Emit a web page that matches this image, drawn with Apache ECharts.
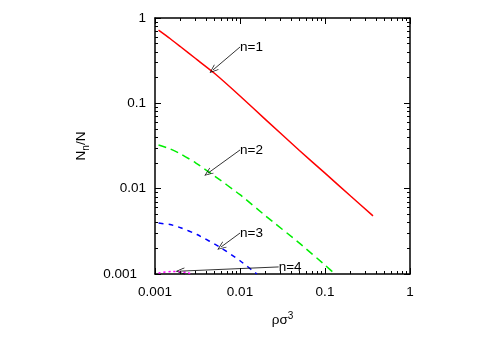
<!DOCTYPE html>
<html>
<head>
<meta charset="utf-8">
<script src="https://cdn.jsdelivr.net/npm/echarts@6/dist/echarts.min.js"></script>
<style>
  html, body { margin: 0; padding: 0; background: #fff; }
  #chart { width: 485px; height: 339px; }
</style>
</head>
<body>
<div id="chart"></div>
<script>
// density values (rho sigma^3) and fractions N_n/N for each cluster size
const n1X = [0.0011, 0.0015, 0.002, 0.003, 0.005, 0.01, 0.02, 0.05, 0.1, 0.2, 0.367]
const n1Y = [0.72, 0.575, 0.46, 0.335, 0.225, 0.122, 0.0645, 0.028, 0.0152, 0.0082, 0.0048]
const n2X = [0.0011, 0.0015, 0.002, 0.003, 0.005, 0.01, 0.02, 0.05, 0.1, 0.131]
const n2Y = [0.0325, 0.0293, 0.0256, 0.0201, 0.0141, 0.0085, 0.0048, 0.0023, 0.00127, 0.001]
const n3X = [0.0011, 0.0015, 0.002, 0.00312, 0.00597, 0.01, 0.0158]
const n3Y = [0.00395, 0.0038, 0.00349, 0.0029, 0.00203, 0.00143, 0.001]
const n4X = [0.0011, 0.0016, 0.0024, 0.0027]
const n4Y = [0.00103, 0.00107, 0.00104, 0.00099]
const tickLabels = ['0.001', '0.01', '0.1', '1']
const decades = [0.001, 0.01, 0.1]
const minorSteps = [2, 3, 4, 5, 6, 7, 8, 9]

// arrow annotations: [label, from, to]
const arrows = [
  ['n=1', [0.01, 0.457], [0.00481, 0.246]],
  ['n=2', [0.01, 0.0284], [0.0042, 0.0152]],
  ['n=3', [0.01, 0.00302], [0.00597, 0.00207]],
  ['n=4', [0.0285, 0.00121], [0.00197, 0.00108]]
]

const pairs = (xs, ys) => xs.map((x, i) => [x, ys[i]])
const font = 'Liberation Sans, Arial, sans-serif'
const minorValues = []
decades.forEach(d => minorSteps.forEach(k => minorValues.push(d * k)))

const fmt = (v) => {
  const s = tickLabels.find(t => Math.abs(Number(t) - v) / v < 1e-6)
  return s || ''
}

const baseAxis = {
  type: 'log',
  logBase: 10,
  min: 0.001,
  max: 1,
  axisLine: { show: true, onZero: false, lineStyle: { color: '#000', width: 1.5 } },
  axisTick: { show: true, inside: true, length: 6, lineStyle: { color: '#000' } },
  minorTick: { show: false },
  splitLine: { show: false },
  axisLabel: { color: '#000', fontSize: 13.5, fontFamily: font, formatter: fmt }
}

// extra axis carrying only the short minor ticks
const minorAxis = (position) => ({
  type: 'log',
  logBase: 10,
  min: 0.001,
  max: 1,
  position: position,
  axisLine: { show: false },
  axisTick: { show: true, inside: true, length: 3, customValues: minorValues, lineStyle: { color: '#000' } },
  axisLabel: { show: false },
  splitLine: { show: false }
})

// open V arrow head
const arrowHead = 'path://M5,0 L10,11 L9,11 L5,2.2 L1,11 L0,11 Z'

const chart = echarts.init(document.getElementById('chart'))

const option = {
  animation: false,
  backgroundColor: '#fff',
  grid: { left: 155, right: 75, top: 18, bottom: 65 },
  xAxis: [
    Object.assign({}, baseAxis, {
      position: 'bottom',
      name: 'ρσ{sup|3}',
      nameLocation: 'middle',
      nameGap: 37,
      nameTextStyle: {
        color: '#000', fontSize: 13.5, fontFamily: font,
        rich: { sup: { fontSize: 10, verticalAlign: 'top', padding: [0, 0, 9, 0], color: '#000', fontFamily: font } }
      },
      axisLabel: Object.assign({}, baseAxis.axisLabel, { margin: 11 })
    }),
    Object.assign({}, baseAxis, {
      position: 'top',
      axisLabel: { show: false }
    }),
    minorAxis('bottom'),
    minorAxis('top')
  ],
  yAxis: [
    Object.assign({}, baseAxis, {
      position: 'left',
      name: 'N{sub|n}/N',
      nameLocation: 'middle',
      nameRotate: 90,
      nameGap: 64,
      nameTextStyle: {
        color: '#000', fontSize: 13.5, fontFamily: font,
        rich: { sub: { fontSize: 10, verticalAlign: 'bottom', padding: [9, 0, 0, 0], color: '#000', fontFamily: font } }
      },
      axisLabel: Object.assign({}, baseAxis.axisLabel, {
        margin: 9,
        formatter: (v) => {
          const s = fmt(v)
          return s === '0.001' ? '{low|' + s + '}' : s
        },
        rich: { low: { fontSize: 13.5, fontFamily: font, color: '#000', padding: [0, 9, 0, 0] } }
      })
    }),
    Object.assign({}, baseAxis, {
      position: 'right',
      axisLabel: { show: false }
    }),
    minorAxis('left'),
    minorAxis('right')
  ],
  series: [
    {
      type: 'line', name: 'n=1', data: pairs(n1X, n1Y), showSymbol: false, smooth: 0.2, clip: true,
      lineStyle: { color: '#ff0000', width: 1.5 },
      markLine: {
        silent: true,
        symbol: ['none', arrowHead],
        symbolSize: [7, 9],
        lineStyle: { color: '#000', width: 0.8, type: 'solid' },
        label: { show: false },
        data: arrows.map(a => [{ coord: a[1] }, { coord: a[2] }])
      },
      markPoint: {
        silent: true,
        symbol: 'circle',
        symbolSize: 0,
        label: { show: true, position: 'right', distance: 0, color: '#000', fontSize: 13.5, fontFamily: font, formatter: (p) => p.name },
        data: arrows.map(a => ({ name: a[0], coord: [a[1][0], a[1][1]] }))
      }
    },
    {
      type: 'line', name: 'n=2', data: pairs(n2X, n2Y), showSymbol: false, smooth: 0.2, clip: true,
      lineStyle: { color: '#00ee00', width: 1.5, type: [8, 5] }
    },
    {
      type: 'line', name: 'n=3', data: pairs(n3X, n3Y), showSymbol: false, smooth: 0.2, clip: true,
      lineStyle: { color: '#0000ff', width: 1.5, type: [5, 5] }
    },
    {
      type: 'line', name: 'n=4', data: pairs(n4X, n4Y), showSymbol: false, smooth: 0.2, clip: true,
      lineStyle: { color: '#ff00ff', width: 1.5, type: [2, 3] }
    }
  ]
}

chart.setOption(option)
</script>
</body>
</html>
